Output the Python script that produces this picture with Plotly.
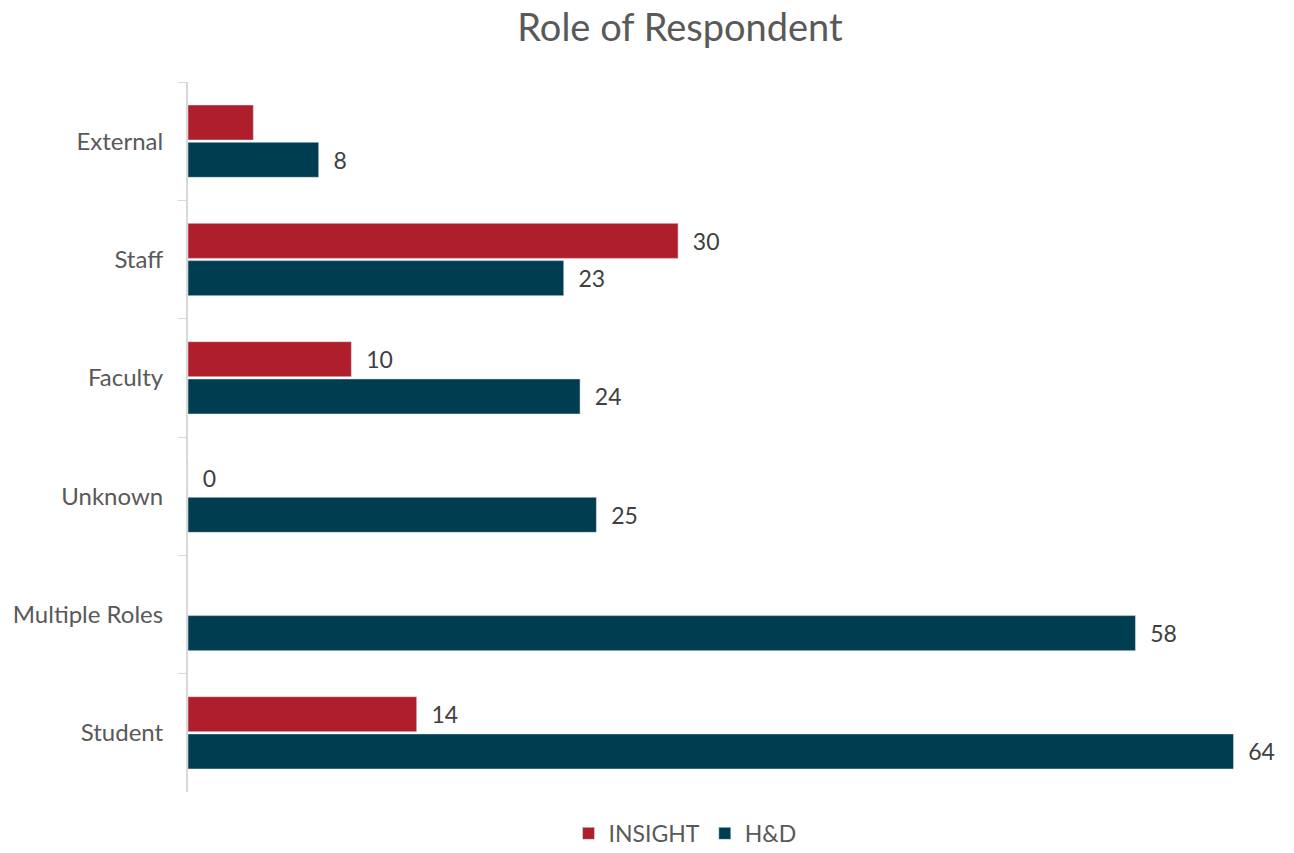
import plotly.graph_objects as go

# Respondent roles, top to bottom
roles = ["External", "Staff", "Faculty", "Unknown", "Multiple Roles", "Student"]

insight = [4, 30, 10, 0, None, 14]
insight_labels = ["", "30", "10", "0", "", "14"]

hd = [8, 23, 24, 25, 58, 64]
hd_labels = ["8", "23", "24", "25", "58", "64"]

FONT = "Lato, 'Open Sans', sans-serif"
RED = "#AF1E2B"
TEAL = "#003D50"

fig = go.Figure()
fig.add_trace(go.Bar(
    name="INSIGHT", y=roles, x=insight, orientation="h",
    marker=dict(color=RED),
    text=["  " + t if t else "" for t in insight_labels],
    textposition="outside", cliponaxis=False,
    textfont=dict(family=FONT, size=23, color="#404040"),
))
fig.add_trace(go.Bar(
    name="H&D", y=roles, x=hd, orientation="h",
    marker=dict(color=TEAL),
    text=["  " + t for t in hd_labels],
    textposition="outside", cliponaxis=False,
    textfont=dict(family=FONT, size=23, color="#404040"),
))

fig.update_layout(
    width=1294, height=853,
    paper_bgcolor="white", plot_bgcolor="white",
    margin=dict(l=188, r=36, t=82, b=61, autoexpand=False),
    barmode="group", bargap=0.37, bargroupgap=0.06,
    font=dict(family=FONT, color="#595959"),
    title=dict(text="Role of Respondent", xref="container", x=0.5255,
               xanchor="center", y=0.968, yanchor="middle",
               font=dict(family=FONT, size=38, color="#595959")),
    showlegend=True,
    legend=dict(orientation="h", x=0.4645, xanchor="center", y=-0.028,
                yanchor="top", font=dict(family=FONT, size=23, color="#595959"),
                itemwidth=30, traceorder="normal"),
)
fig.update_xaxes(range=[0, 65.5], visible=False, showgrid=False, zeroline=False)
fig.update_yaxes(
    autorange="reversed", type="category", tickson="boundaries",
    ticks="outside", ticklen=8, tickcolor="#D9D9D9",
    showline=True, linecolor="#D9D9D9", linewidth=2,
    showgrid=False, ticklabelstandoff=18,
    tickfont=dict(family=FONT, size=24, color="#595959"),
)

fig.write_html("out.html")
